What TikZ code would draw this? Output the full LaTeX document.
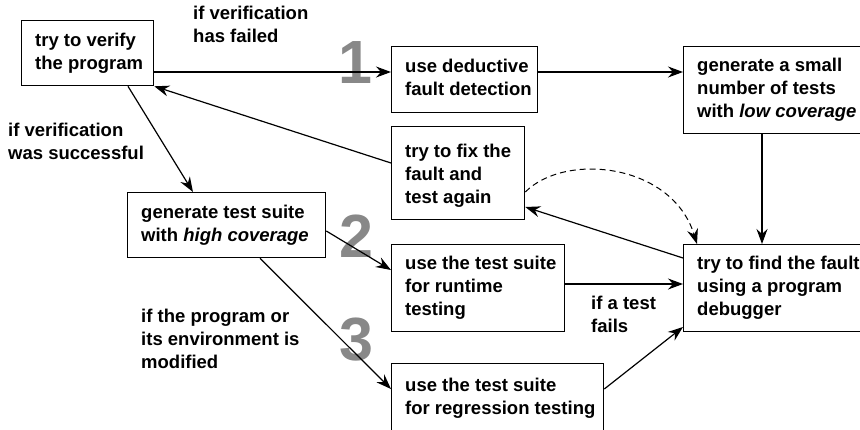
\documentclass[tikz,border=0pt]{standalone}
\usepackage{fontspec}
\setmainfont{Liberation Sans}
\usetikzlibrary{arrows.meta}
\definecolor{numgray}{HTML}{888888}
\newcommand\txtfont{\fontsize{18.5}{23}\selectfont\bfseries}
\newcommand\numfont{\fontsize{61}{61}\selectfont\bfseries}
\begin{document}
\begin{tikzpicture}[x=1pt,y=-1pt,
  box/.style={draw, line width=1.3pt, anchor=north west, inner sep=0pt},
  txt/.style={inner sep=0pt, align=left, anchor=west, font=\txtfont},
  num/.style={inner sep=0pt, font=\numfont, text=numgray},
  arr/.style={-{Stealth[length=15pt,width=11pt,inset=5pt]}, line width=1.2pt},
  darr/.style={arr, line width=1pt, dash pattern=on 6pt off 4pt}]
\useasboundingbox (0,0) rectangle (860,429);
\clip (0,0) rectangle (860,429);

% big numbers
\node[num] (n1) at (355,63) {1};
\node[num] (n2) at (356,236) {2};
\node[num] (n3) at (356,340) {3};

% boxes
\node[box, minimum width=132pt, minimum height=65pt] (A) at (21,20) {};
\node[box, minimum width=146pt, minimum height=66pt] (B) at (391,46) {};
\node[box, minimum width=190pt, minimum height=87pt] (C) at (683,46) {};
\node[box, minimum width=133pt, minimum height=93pt] (D) at (391,126) {};
\node[box, minimum width=198pt, minimum height=65pt] (E) at (127,192) {};
\node[box, minimum width=173pt, minimum height=87pt] (F) at (391,244) {};
\node[box, minimum width=212pt, minimum height=70pt] (G) at (391,363) {};
\node[box, minimum width=190pt, minimum height=87pt] (H) at (683,244) {};

% box texts
\node[txt] (At) at ([xshift=14pt]A.west) {\strut try to verify\\the program\strut};
\node[txt] (Bt) at ([xshift=14pt]B.west) {\strut use deductive\\fault detection\strut};
\node[txt] (Ct) at ([xshift=14pt]C.west) {\strut generate a small\\number of tests\\with \textit{low coverage}\strut};
\node[txt] (Dt) at ([xshift=14pt,yshift=-3pt]D.west) {\strut try to fix the\\fault and\\test again\strut};
\node[txt] (Et) at ([xshift=14pt]E.west) {\strut generate test suite\\with \textit{high coverage}\strut};
\node[txt] (Ft) at ([xshift=14pt]F.west) {\strut use the test suite\\for runtime\\testing\strut};
\node[txt] (Gt) at ([xshift=14pt]G.west) {\strut use the test suite\\for regression testing\strut};
\node[txt] (Ht) at ([xshift=14pt]H.west) {\strut try to find the fault\\using a program\\debugger\strut};

% labels
\node[txt] (L1) at (193,26.5) {\strut if verification\\has failed\strut};
\node[txt] (L2) at (8,143.5) {\strut if verification\\was successful\strut};
\node[txt] (L3) at (141,341) {\strut if the program or\\its environment is\\modified\strut};
\node[txt] (L4) at (591,316.5) {\strut if a test\\fails\strut};

% connectors
\draw[arr] (A.east |- 0,72) -- (B.west |- 0,72);
\draw[arr] (B.east |- 0,72) -- (C.west |- 0,72);
\draw[arr] (C.south -| 762,0) -- (H.north -| 762,0);
\draw[arr] (D.west |- 0,163) -- (A.south east);
\draw[arr] (A.south -| 128,0) -- (E.north -| 193,0);
\draw[arr] (H.west |- 0,258) -- (D.east |- 0,207);
\draw[darr] (D.east |- 0,192) .. controls (565,152) and (672,163) .. (H.north -| 697,0);
\draw[arr] (E.east |- 0,231) -- (F.west |- 0,270);
\draw[arr] (E.south -| 260,0) -- (G.west |- 0,389);
\draw[arr] (F.east |- 0,284) -- (H.west |- 0,284);
\draw[arr] (G.east |- 0,389) -- (H.west |- 0,327);
\end{tikzpicture}
\end{document}
